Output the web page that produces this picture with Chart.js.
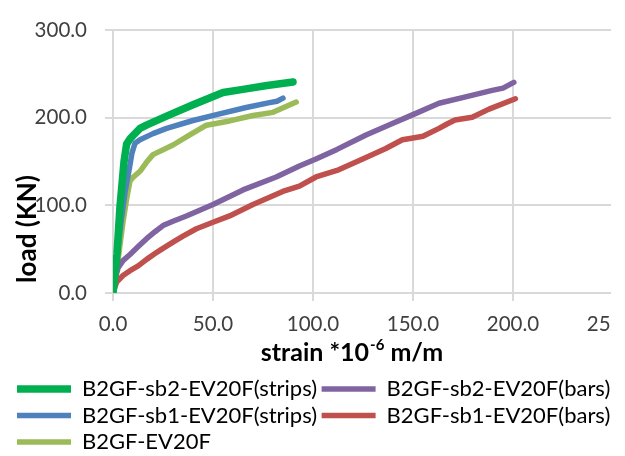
<!DOCTYPE html>
<html>
<head>
<meta charset="utf-8">
<script src="https://cdn.jsdelivr.net/npm/chart.js@4/dist/chart.umd.min.js"></script>
<style>
  html, body { margin: 0; padding: 0; background: #fff; overflow: hidden; }
  #wrap { width: 611px; height: 456px; overflow: hidden; }
  canvas { display: block; }
</style>
</head>
<body>
<div id="wrap"><canvas id="loadChart" width="660" height="463"></canvas></div>
<script>
// strain (x) and load (y) readings per specimen
var sb2StripsStrain = [0, 2, 3.5, 5.5, 6.8, 8.5, 10.5, 13.5, 17, 26.8, 40, 55, 65, 77, 90];
var sb2StripsLoad = [0, 45, 99, 150, 170, 176, 181, 188, 192, 202, 215, 229, 232.5, 237, 241];

var sb2BarsStrain = [0, 1.5, 2.6, 5, 8.5, 12.6, 16.8, 21, 25, 30, 36.7, 50, 65, 81.6, 93.2, 101.5, 112, 126.5, 139.7, 149.7, 163, 176.3, 189.6, 195, 200.4];
var sb2BarsLoad = [0, 20, 29, 37, 44, 53, 62, 70, 77, 82, 88, 101, 117.7, 132.5, 145, 153, 164, 180.5, 193.5, 203.4, 216.7, 224, 231.4, 234, 240.5];

var sb1StripsStrain = [0, 2, 4, 6, 8, 9.5, 11, 13.5, 20, 26.8, 40, 53.3, 66.6, 78.3, 82, 85];
var sb1StripsLoad = [0, 40, 81, 115, 140, 160, 171, 175, 182, 188, 197, 204.5, 211.8, 217.4, 219, 222.5];

var sb1BarsStrain = [0, 1.8, 5, 8.5, 12.6, 16.8, 21, 25, 30, 35, 41.7, 50, 58.3, 70, 84.9, 93.2, 101.5, 112, 126.5, 136.4, 144.7, 150, 155, 163, 167, 171, 179.6, 188, 201.2];
var sb1BarsLoad = [0, 12.5, 20, 25.5, 31, 38.4, 45, 51, 58, 65, 73.4, 80.8, 88, 101, 116, 122, 132.5, 140, 154.7, 165, 175, 177, 179, 188, 193, 197.5, 200.8, 210, 221.8];

var ev20fStrain = [0, 1.8, 3.5, 5, 7, 8.5, 10, 13.5, 17, 20, 30, 38.4, 46.7, 58.3, 70, 80, 91.6];
var ev20fLoad = [0, 25, 55, 81, 110, 128, 132, 139, 150, 158, 169, 180.5, 191.6, 196.5, 202.7, 206.3, 218];

var seriesNames = ['B2GF-sb2-EV20F(strips)', 'B2GF-sb2-EV20F(bars)', 'B2GF-sb1-EV20F(strips)', 'B2GF-sb1-EV20F(bars)', 'B2GF-EV20F'];
var seriesColors = ['#00B050', '#8064A2', '#4F81BD', '#C0504D', '#9BBB59'];
var seriesWidths = [7.5, 5.5, 5.5, 5.5, 5.5];

var xTicks = [0, 50, 100, 150, 200, 250];
var yTicks = [0, 100, 200, 300];

var yTitle = 'load (KN)';
var xTitleParts = ['strain *10', '-6', ' m/m'];

function toPoints(xs, ys) {
  return xs.map(function (x, i) { return { x: x, y: ys[i] }; });
}

var seriesData = [
  toPoints(sb2StripsStrain, sb2StripsLoad),
  toPoints(sb2BarsStrain, sb2BarsLoad),
  toPoints(sb1StripsStrain, sb1StripsLoad),
  toPoints(sb1BarsStrain, sb1BarsLoad),
  toPoints(ev20fStrain, ev20fLoad)
];

var datasets = seriesNames.map(function (name, i) {
  return {
    label: name,
    data: seriesData[i],
    borderColor: seriesColors[i],
    backgroundColor: seriesColors[i],
    borderWidth: seriesWidths[i],
    borderCapStyle: 'round',
    borderJoinStyle: 'round',
    pointRadius: 0,
    tension: 0
  };
});

// axis titles drawn by hand so the superscript can be placed
var axisTitles = {
  id: 'axisTitles',
  afterDraw: function (chart) {
    var ctx = chart.ctx;
    var area = chart.chartArea;
    ctx.save();
    ctx.fillStyle = '#000';
    ctx.textBaseline = 'middle';

    ctx.font = 'bold 26px Lato';
    ctx.save();
    ctx.translate(28, area.bottom - 64);
    ctx.rotate(-Math.PI / 2);
    ctx.textAlign = 'center';
    ctx.fillText(yTitle, 0, 0);
    ctx.restore();

    var big = 'bold 25px Lato';
    var small = 'bold 15px Lato';
    ctx.font = big;
    var w0 = ctx.measureText(xTitleParts[0]).width;
    var w2 = ctx.measureText(xTitleParts[2]).width;
    ctx.font = small;
    var w1 = ctx.measureText(xTitleParts[1]).width;
    var cx = 352, cy = area.bottom + 60;
    var x = cx - (w0 + w1 + w2 + 1) / 2;
    ctx.textAlign = 'left';
    ctx.font = big;
    ctx.fillText(xTitleParts[0], x, cy);
    ctx.font = small;
    ctx.fillText(xTitleParts[1], x + w0 + 1, cy - 8);
    ctx.font = big;
    ctx.fillText(xTitleParts[2], x + w0 + w1 + 1, cy);
    ctx.restore();
  }
};

function hideLast(max) {
  return function (c) {
    return c.tick && c.tick.value === max ? 'rgba(0,0,0,0)' : '#d9d9d9';
  };
}

var ctx = document.getElementById('loadChart').getContext('2d');
var myChart = new Chart(ctx, {
  type: 'line',
  data: { datasets: datasets },
  plugins: [axisTitles],
  options: {
    responsive: false,
    animation: false,
    devicePixelRatio: 1,
    layout: { padding: { left: 12.5, top: 22, right: 0, bottom: 0 } },
    scales: {
      x: {
        type: 'linear',
        min: xTicks[0],
        max: xTicks[xTicks.length - 1],
        afterBuildTicks: function (scale) {
          scale.ticks = xTicks.map(function (v) { return { value: v }; });
        },
        afterFit: function (scale) {
          scale.height = 80.5;
          scale.paddingRight = 47;
        },
        grid: { color: hideLast(250), lineWidth: 2, tickLength: 8 },
        border: { color: '#d9d9d9', width: 2 },
        ticks: {
          padding: 11,
          color: '#404040',
          font: { family: 'Lato', size: 20.5 },
          maxRotation: 0,
          autoSkip: false,
          callback: function (v) { return v.toFixed(1); }
        }
      },
      y: {
        min: yTicks[0],
        max: yTicks[yTicks.length - 1],
        afterBuildTicks: function (scale) {
          scale.ticks = yTicks.map(function (v) { return { value: v }; });
        },
        afterFit: function (scale) {
          scale.width = 100.5;
        },
        grid: { color: '#d9d9d9', lineWidth: 2, tickLength: 8 },
        border: { color: '#d9d9d9', width: 2 },
        ticks: {
          padding: 18,
          color: '#404040',
          font: { family: 'Lato', size: 20.5 },
          callback: function (v) { return v.toFixed(1); }
        }
      }
    },
    plugins: {
      tooltip: { enabled: false },
      legend: {
        position: 'bottom',
        align: 'start',
        labels: {
          usePointStyle: true,
          pointStyle: 'line',
          pointStyleWidth: 54,
          padding: 4.5,
          color: '#000',
          font: { family: 'Lato', size: 22 }
        }
      }
    }
  }
});
</script>
</body>
</html>
